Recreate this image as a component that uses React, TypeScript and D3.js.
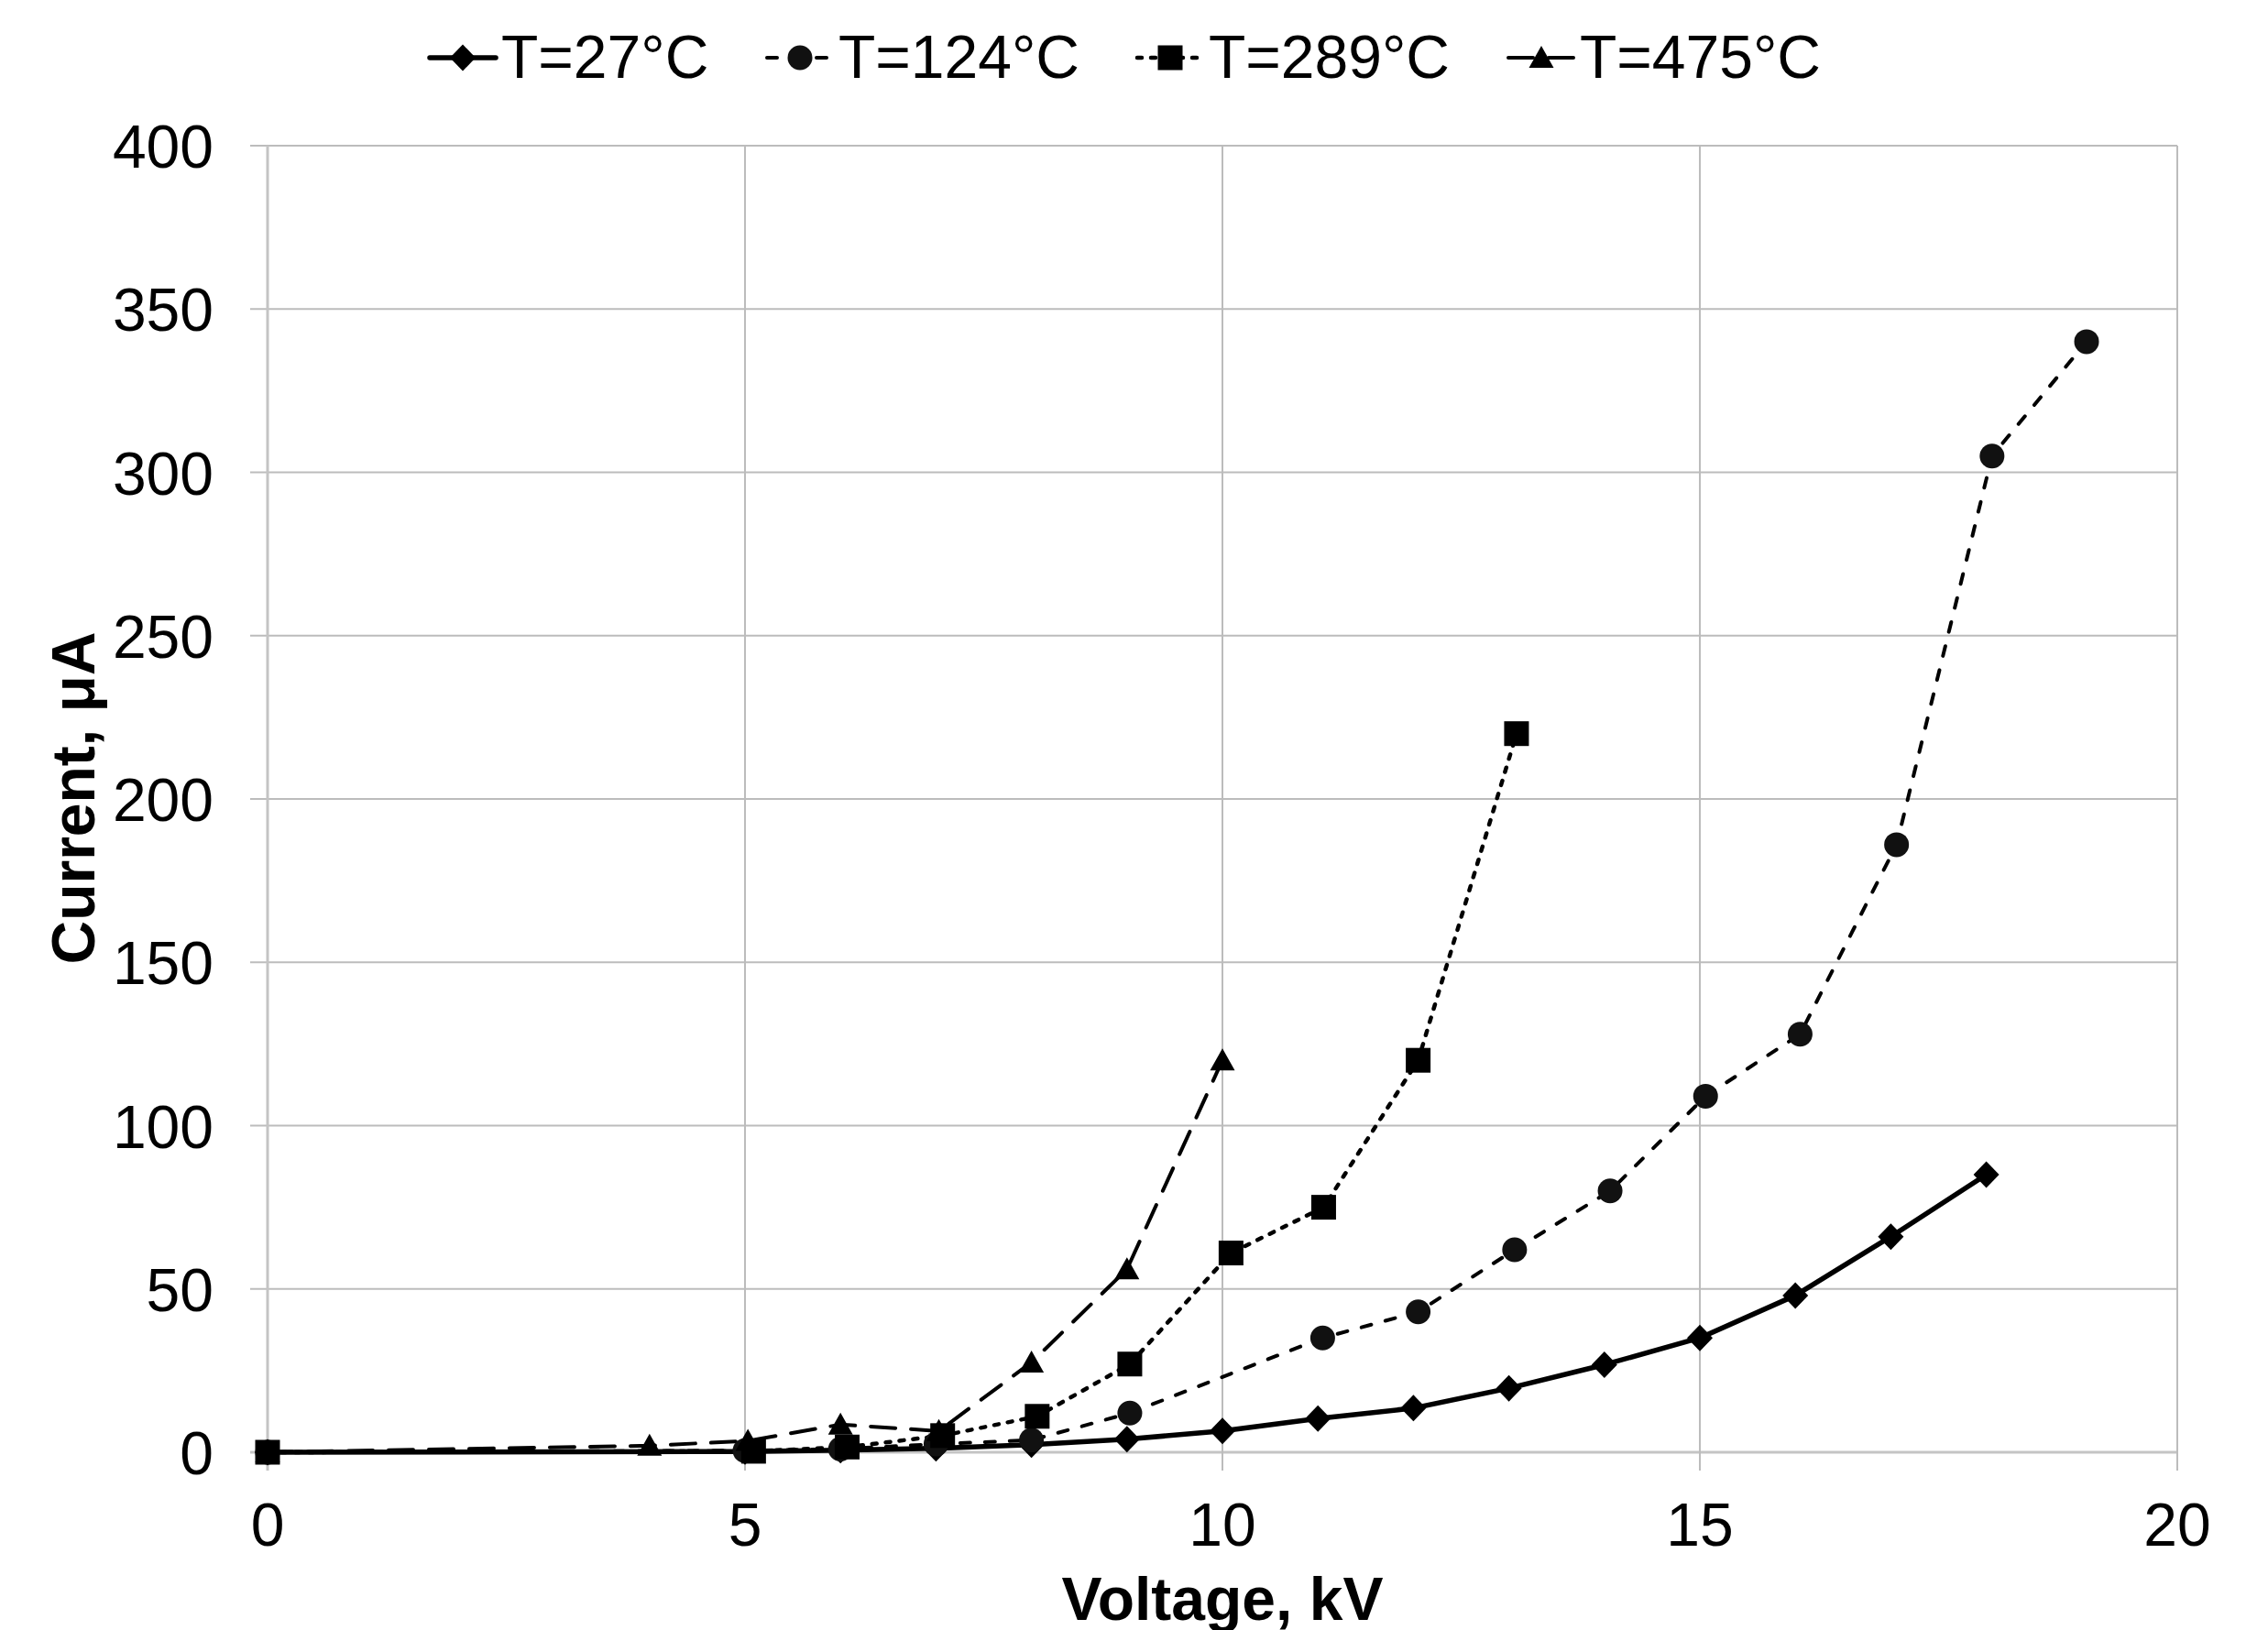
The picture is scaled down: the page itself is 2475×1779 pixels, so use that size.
import React from 'react';
import * as d3 from 'd3';

// series data (voltage kV / current uA)
const seriesNames = ['T=27°C', 'T=124°C', 'T=289°C', 'T=475°C'];

const x27 = [0, 5, 6, 7, 8, 9, 10, 11, 12, 13, 14, 15, 16, 17, 18];
const y27 = [0, 0.2, 0.6, 1.2, 2.3, 4.0, 6.5, 10.3, 13.5, 19.6, 26.8, 35, 48, 66, 85];

const x124 = [0, 5, 6, 7, 8, 9.03, 11.05, 12.05, 13.06, 14.06, 15.06, 16.05, 17.06, 18.06, 19.05];
const y124 = [0, 0.5, 1, 2.5, 3.7, 12, 35, 43, 62, 80, 109, 128, 186, 305, 340];

const x289 = [0, 5.09, 6.07, 7.07, 8.06, 9.03, 10.09, 11.06, 12.05, 13.08];
const y289 = [0, 0.3, 1.6, 5.1, 11, 27, 61, 75, 120, 220];

const x475 = [0, 4, 5.03, 6, 7.03, 8, 9, 10];
const y475 = [0, 2, 3.5, 8.5, 6.5, 27.5, 56, 120];

const xTicks = [0, 5, 10, 15, 20];
const yTicks = [0, 50, 100, 150, 200, 250, 300, 350, 400];

const W = 2475;
const H = 1779;
const left = 292, right = 2376, top = 159, bottom = 1585;
const font = '"Liberation Sans", Arial, sans-serif';

// line styles per series
const styles = [
  { width: 5.5, dash: null, cap: 'round' },
  { width: 4, dash: '11,16', cap: 'round' },
  { width: 4.5, dash: '5,10', cap: 'round' },
  { width: 4, dash: '27,17', cap: 'round' },
];
const markerTypes = ['diamond', 'circle', 'square', 'triangle'];
const legendX = [469, 837, 1241, 1646];

function marker(type: string, x: number, y: number, key: any) {
  if (type === 'diamond') {
    return <path key={key} d={`M${x},${y - 14.5}L${x + 14},${y}L${x},${y + 14.5}L${x - 14},${y}Z`} fill="#000" />;
  }
  if (type === 'circle') {
    return <circle key={key} cx={x} cy={y} r={13.5} fill="#111" />;
  }
  if (type === 'square') {
    return <rect key={key} x={x - 13.5} y={y - 13.5} width={27} height={27} fill="#000" />;
  }
  return <path key={key} d={`M${x},${y - 13}L${x + 13.5},${y + 11}L${x - 13.5},${y + 11}Z`} fill="#000" />;
}

export default function App() {
  const xScale = d3.scaleLinear().domain([0, 20]).range([left, right]);
  const yScale = d3.scaleLinear().domain([0, 400]).range([bottom, top]);

  const data = [
    d3.zip(x27, y27),
    d3.zip(x124, y124),
    d3.zip(x289, y289),
    d3.zip(x475, y475),
  ];

  const line = d3.line<number[]>()
    .x(d => xScale(d[0]))
    .y(d => yScale(d[1]));

  return (
    <div style={{ position: 'absolute', left: 0, top: 0 }}>
      <svg width={W} height={H} style={{ display: 'block', background: '#fff' }}>
        <rect x={0} y={0} width={W} height={H} fill="#fff" />

        {/* gridlines + tick marks */}
        {yTicks.map(t => (
          <line key={'gy' + t} x1={left - 19} x2={right} y1={yScale(t)} y2={yScale(t)}
            stroke={t === 0 ? '#c4c4c4' : '#bcbcbc'} strokeWidth={t === 0 ? 3 : 2} />
        ))}
        {xTicks.map(t => (
          <line key={'gx' + t} x1={xScale(t)} x2={xScale(t)} y1={top} y2={bottom + 20}
            stroke={t === 0 ? '#c4c4c4' : '#bcbcbc'} strokeWidth={t === 0 ? 3 : 2} />
        ))}

        {/* tick labels */}
        {yTicks.map(t => (
          <text key={'ly' + t} x={233} y={yScale(t) + 24} textAnchor="end"
            fontFamily={font} fontSize={66} fill="#000">{t}</text>
        ))}
        {xTicks.map(t => (
          <text key={'lx' + t} x={xScale(t)} y={1687} textAnchor="middle"
            fontFamily={font} fontSize={66} fill="#000">{t}</text>
        ))}

        {/* series lines */}
        {data.map((d, i) => (
          <path key={'s' + i} d={line(d) || ''} fill="none" stroke="#000"
            strokeWidth={styles[i].width}
            strokeDasharray={styles[i].dash || undefined}
            strokeLinecap={styles[i].cap as any} strokeLinejoin="round" />
        ))}
        {/* markers */}
        {data.map((d, i) => (
          <g key={'m' + i}>
            {d.map((p, j) => marker(markerTypes[i], xScale(p[0]), yScale(p[1]), j))}
          </g>
        ))}

        {/* axis titles */}
        <text x={1334} y={1768} textAnchor="middle" fontFamily={font} fontSize={66}
          fontWeight="bold" fill="#000">Voltage, kV</text>
        <text transform={`translate(103,871) rotate(-90)`} textAnchor="middle" fontFamily={font}
          fontSize={66} fontWeight="bold" fill="#000">Current, μA</text>

        {/* legend */}
        {seriesNames.map((name, i) => (
          <g key={'lg' + i}>
            <line x1={legendX[i]} x2={legendX[i] + 72} y1={63} y2={63} stroke="#000"
              strokeWidth={styles[i].width}
              strokeDasharray={styles[i].dash || undefined}
              strokeLinecap={styles[i].cap as any} />
            {marker(markerTypes[i], legendX[i] + 36, 63, 'mk')}
            <text x={legendX[i] + 78} y={85} fontFamily={font} fontSize={66} fill="#000">{name}</text>
          </g>
        ))}
      </svg>
    </div>
  );
}
